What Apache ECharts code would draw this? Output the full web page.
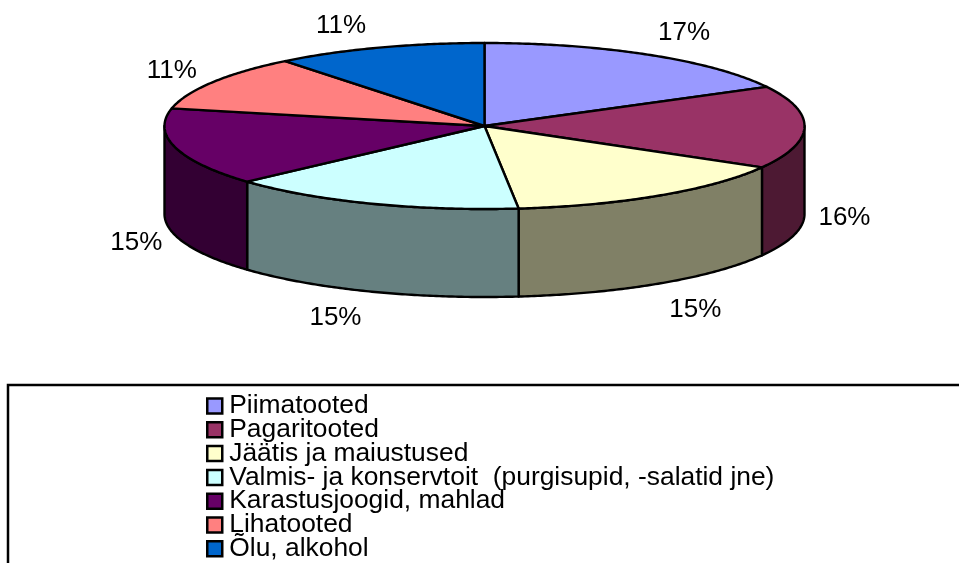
<!DOCTYPE html>
<html><head><meta charset="utf-8">
<style>html,body{margin:0;padding:0;background:#fff;overflow:hidden}#c{width:959px;height:563px}</style>
<script src="https://cdn.jsdelivr.net/npm/echarts@6/dist/echarts.min.js"></script>
</head><body><div id="c"></div>
<script>
const categories = ['Piimatooted','Pagaritooted','Jäätis ja maiustused','Valmis- ja konservtoit  (purgisupid, -salatid jne)','Karastusjoogid, mahlad','Lihatooted','Õlu, alkohol'];
const shares = [17.2,16.1,15.0,15.0,15.1,10.9,10.7];
const topColors = ['#9999FF','#993366','#FFFFCC','#CCFFFF','#660066','#FF8080','#0066CC'];
const wallColors = ['#4D1933','#4D1933','#808066','#668080','#330033','#804040','#003366'];
const labelNudges = [[-3,-1],[2,1],[-2,4],[3,1],[-1,0],[-3,1],[0,2]];

const FONT = '"Liberation Sans", Arial, sans-serif';
const CX = 484.5, CY = 126, RX = 320, RY = 83, DEPTH = 88;
const total = shares.reduce((a,b)=>a+b,0);
const rim = (t, dy) => [CX + RX*Math.sin(t), CY + dy - RY*Math.cos(t)];
const arc = (a, b, dy) => {
  const n = Math.max(2, Math.ceil((b-a)/0.01)), out = [];
  for (let i=0;i<=n;i++) out.push(rim(a+(b-a)*i/n, dy));
  return out;
};
const line = {stroke:'#000', lineWidth:2.4, lineJoin:'round'};
function renderSlice(idx){
  return function(params, api){
    const before = api.value(0), v = api.value(1);
    const a = before/total*2*Math.PI, b = (before+v)/total*2*Math.PI;
    const children = [];
    const wa = Math.max(a, Math.PI/2), wb = Math.min(b, 3*Math.PI/2);
    if (wb > wa) {
      children.push({type:'polygon', z2:1,
        shape:{points: arc(wa,wb,0).concat(arc(wa,wb,DEPTH).reverse())},
        style:Object.assign({fill:wallColors[idx]}, line)});
    }
    children.push({type:'polygon', z2:2,
      shape:{points:[[CX,CY]].concat(arc(a,b,0))},
      style:Object.assign({fill:topColors[idx]}, line)});
    const m = (a+b)/2, s = Math.sin(m), c = Math.cos(m);
    const base = rim(m, c < 0.1 ? DEPTH : 0);
    children.push({type:'text', z2:3,
      style:{x: base[0] + (s>=0?38:-38) + labelNudges[idx][0], y: base[1] - 26*c + 1 + labelNudges[idx][1],
        text: Math.round(v/total*100)+'%', fill:'#000',
        font:'26px '+FONT, align:'center', verticalAlign:'middle'}});
    return {type:'group', children};
  };
}
let acc = 0;
const series = categories.map((name,i)=>{
  const s = {type:'custom', name, coordinateSystem:'none', silent:true, animation:false,
    itemStyle:{color:topColors[i]},
    data:[[acc, shares[i]]], renderItem:renderSlice(i)};
  acc += shares[i];
  return s;
});
const chart = echarts.init(document.getElementById('c'), null, {renderer:'canvas'});
chart.setOption({
  animation:false,
  backgroundColor:'#fff',
  legend:{
    show:true, data:categories, orient:'vertical', left:206, top:393, height:400, padding:0,
    itemWidth:15, itemHeight:15, itemGap:-2.2, icon:'rect', selectedMode:false,
    itemStyle:{borderColor:'#000', borderWidth:2.5},
    textStyle:{fontFamily:FONT, fontSize:26.4, color:'#000', padding:[0,0,0,2]}
  },
  graphic:[{type:'rect', silent:true, shape:{x:8,y:385,width:1000,height:300},
    style:{fill:'none', stroke:'#000', lineWidth:2.5}, z:-1}],
  series
});
</script></body></html>
